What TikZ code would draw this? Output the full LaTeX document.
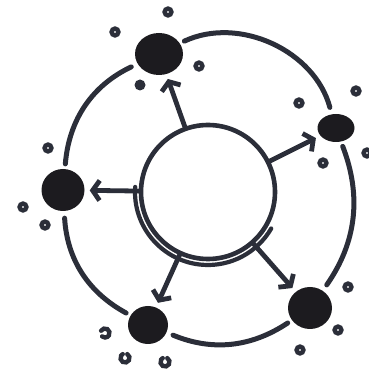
\documentclass[tikz,border=0pt]{standalone}
\usetikzlibrary{arrows.meta,shapes.geometric}
\definecolor{pen}{HTML}{2B2E39}
\definecolor{blot}{HTML}{1C1B1F}
\begin{document}
\begin{tikzpicture}[x=1pt,y=1pt,line cap=round,
  blob/.style={ellipse,fill=blot,draw=none,inner sep=0pt},
  hubring/.style={circle,draw=pen,line width=4.6pt,minimum size=134pt,inner sep=0pt},
  link/.style={pen,line width=4.8pt,-{Straight Barb[length=7pt,width=20pt]},shorten >=5pt},
  rim/.style={pen,line width=5pt,shorten <=5pt,shorten >=7pt},
  speck/.style={pen,line width=4.4pt}]
\useasboundingbox (0,0) rectangle (369,373);

\node[hubring] (hub) at (208,181) {};
\node[blob,minimum width=48pt,minimum height=42pt] (blobtop) at (159,319) {};
\node[blob,minimum width=37pt,minimum height=28pt] (blobright) at (336,245) {};
\node[blob,minimum width=43pt,minimum height=42pt] (blobleft) at (63,183) {};
\node[blob,minimum width=40pt,minimum height=38pt] (blobbl) at (148,48) {};
\node[blob,minimum width=44pt,minimum height=42pt] (blobbr) at (310,65) {};

\draw[pen,line width=4.2pt] (hub.center) ++(176:73) arc[start angle=176,end angle=330,radius=73];

\draw[link] (hub) -- (blobtop);
\draw[link] (hub) -- (blobright);
\draw[link] (hub) -- (blobleft);
\draw[link] (hub) -- (blobbl);
\draw[link] (hub) -- (blobbr);

\draw[rim] (blobtop) to[bend left=50] (blobright);
\draw[rim] (blobright) to[bend left=28] (blobbr);
\draw[rim] (blobbr) to[bend left=28] (blobbl);
\draw[rim] (blobbl) to[bend left=29] (blobleft);
\draw[rim] (blobleft) to[bend left=30] (blobtop);

\foreach \p in {(168,361),(115,341),(199,307),(356,282),(299,270),(323,210),(367,220),
  (48,225),(23,166),(45,148),(348,86),(338,43),(300,23)}
  \draw[speck] \p circle (3.4);
\fill[pen] (140,288) circle (5.5);
\draw[speck] (105,40) ++(150:4.5) arc[start angle=150,end angle=-130,radius=4.5];
\draw[speck] (125,15) ++(60:4.5) arc[start angle=60,end angle=-240,radius=4.5];
\draw[speck] (165,11) ++(60:4.5) arc[start angle=60,end angle=-240,radius=4.5];
\end{tikzpicture}
\end{document}
